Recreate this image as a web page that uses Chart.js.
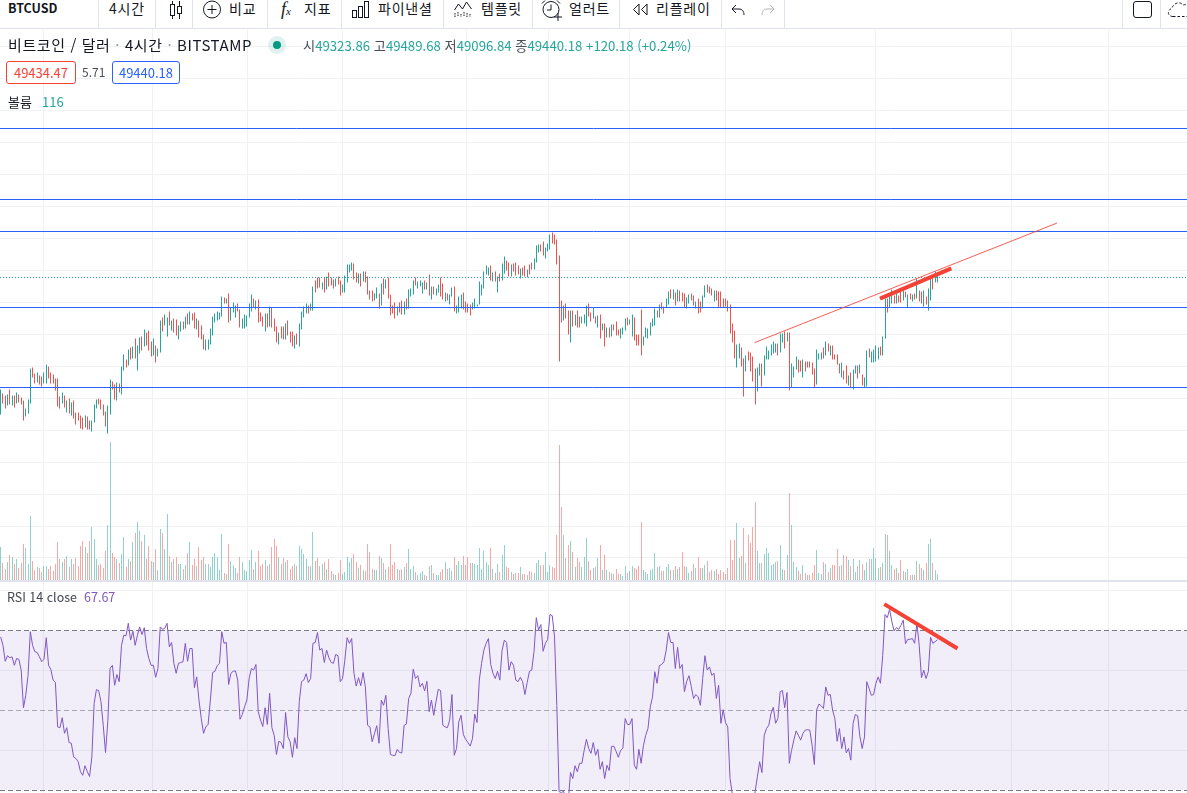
<!DOCTYPE html>
<html lang="ko">
<head>
<meta charset="utf-8">
<title>BTCUSD</title>
<script src="https://cdn.jsdelivr.net/npm/chart.js@4"></script>
<style>
  html, body { margin: 0; padding: 0; background: #fff; overflow: hidden; }
  body { width: 1187px; height: 793px; position: relative; font-family: "Noto Sans CJK KR", "Noto Sans", sans-serif; color: #131722; }
  #chart { position: absolute; left: 0; top: 29px; }
  #toolbar { position: absolute; left: 0; top: 0; width: 1187px; height: 28px; border-bottom: 1px solid #e0e3eb; background: #fff; }
  .t { position: absolute; white-space: nowrap; line-height: 1; }
  .m { font-size: 14px; letter-spacing: 0.8px; top: 1px; }
  .sep { position: absolute; top: 0; width: 1px; height: 28px; background: #e0e3eb; }
  svg { position: absolute; overflow: visible; }
  .box { position: absolute; top: 61px; height: 21px; border-radius: 3px; font-size: 13px; line-height: 21px; text-align: center; background: #fff; }
  .up { color: #26a69a; }
  .lbl { color: #4a4e59; }
</style>
</head>
<body>
<canvas id="chart" width="1187" height="764"></canvas>

<div id="toolbar">
  <div class="t" style="left:8px;top:2px;font-size:12.5px;font-weight:700">BTCUSD</div>
  <div class="sep" style="left:98px"></div>
  <div class="t m" style="left:109px">4시간</div>
  <div class="sep" style="left:155px"></div>
  <svg style="left:168px;top:0" width="16" height="20" fill="none" stroke="#131722"><path d="M4.5 1v18M11.5 1v18"/><rect x="2.5" y="4.5" width="4" height="11" fill="#fff"/><rect x="9.5" y="6.5" width="4" height="7" fill="#fff"/></svg>
  <div class="sep" style="left:192px"></div>
  <svg style="left:202px;top:0" width="20" height="20" fill="none" stroke="#131722"><circle cx="10" cy="9.5" r="8.5"/><path d="M10 5v9M5.5 9.5h9"/></svg>
  <div class="t m" style="left:229px">비교</div>
  <div class="sep" style="left:267px"></div>
  <div class="t" style="left:281px;top:0;font-size:18px;font-style:italic;font-family:'Liberation Serif'">f<span style="font-size:11px">x</span></div>
  <div class="t m" style="left:304px">지표</div>
  <div class="sep" style="left:341px"></div>
  <svg style="left:352px;top:1px" width="17" height="17" fill="none" stroke="#131722"><rect x="0.5" y="9.5" width="4" height="7"/><rect x="6.5" y="5.5" width="4" height="11"/><rect x="12.5" y="0.5" width="4" height="16"/></svg>
  <div class="t m" style="left:378px">파이낸셜</div>
  <div class="sep" style="left:443px"></div>
  <svg style="left:454px;top:1px" width="19" height="17" fill="none" stroke="#131722"><path d="M0.5 9l4-6 4 5 4-7 5 7"/><path d="M1 12v4M4 11v5M7 13v3M10 11v5M13 12v4M16 13v3" stroke-dasharray="1.5 1"/></svg>
  <div class="t m" style="left:481px">템플릿</div>
  <div class="sep" style="left:532px"></div>
  <svg style="left:541px;top:0" width="21" height="21" fill="none" stroke="#131722"><circle cx="10" cy="9.5" r="8"/><path d="M10 4.5v5.5H6M1 3.5l3-3M19 3.5l-3-3"/><path d="M17 13v8M13 17h8" stroke="#131722"/></svg>
  <div class="t m" style="left:569px">얼러트</div>
  <div class="sep" style="left:619px"></div>
  <svg style="left:632px;top:3px" width="16" height="13" fill="none" stroke="#131722"><path d="M7 1L1.5 6.5 7 12zM15 1L9.5 6.5 15 12z"/></svg>
  <div class="t m" style="left:656px">리플레이</div>
  <div class="sep" style="left:721px"></div>
  <svg style="left:731px;top:4px" width="16" height="12" fill="none" stroke="#131722"><path d="M5 1L1 5l4 4M1 5h7c3 0 5 2 5 6"/></svg>
  <svg style="left:759px;top:4px" width="16" height="12" fill="none" stroke="#b2b5be"><path d="M11 1l4 4-4 4M15 5H8c-3 0-5 2-5 6"/></svg>
  <div class="sep" style="left:784px"></div>
  <div class="sep" style="left:1122px"></div>
  <svg style="left:1133px;top:1px" width="19" height="17" fill="none" stroke="#131722"><rect x="0.5" y="0.5" width="18" height="16" rx="2.5"/></svg>
  <div class="sep" style="left:1160px"></div>
  <svg style="left:1168px;top:1px" width="24" height="16" fill="none" stroke="#131722" stroke-dasharray="2.5 2"><path d="M5 15.5c-6 0-6-7-1-8C5 2 12 0 15 4c3-1 8 0 9 4"/><path d="M5 15.5h19"/></svg>
</div>

<div class="t" style="left:8px;top:37px;font-size:15px;letter-spacing:0.6px">비트코인 / 달러 <span style="color:#9598a1">·</span> 4시간 <span style="color:#9598a1">·</span> BITSTAMP</div>
<svg style="left:268px;top:36px" width="18" height="18"><circle cx="9" cy="9" r="9" fill="#26a69a" fill-opacity="0.15"/><circle cx="9" cy="9" r="4" fill="#089981"/></svg>
<div class="t" style="left:303px;top:39px;font-size:13.2px"><span class="lbl">시</span><span class="up">49323.86</span>&nbsp;<span class="lbl">고</span><span class="up">49489.68</span>&nbsp;<span class="lbl">저</span><span class="up">49096.84</span>&nbsp;<span class="lbl">종</span><span class="up">49440.18</span>&nbsp;<span class="up">+120.18 (+0.24%)</span></div>

<div class="box" style="left:6px;width:68px;border:1px solid #f44336;color:#f44336">49434.47</div>
<div class="t" style="left:82px;top:66px;font-size:12px;color:#4a4e59">5.71</div>
<div class="box" style="left:112px;width:66px;border:1px solid #2962ff;color:#2962ff">49440.18</div>

<div class="t" style="left:8px;top:95px;font-size:13px">볼륨</div>
<div class="t up" style="left:42px;top:95px;font-size:13px">116</div>
<div class="t" style="left:7px;top:591px;font-size:12.5px;color:#434651">RSI 14 close &nbsp;<span style="color:#7e57c2">67.67</span></div>

<script>
// bar-by-bar values, rows of 10
const highs = [
  40480,40160,40000,40080,40480,40000,40000,40240,40080,39840,
  39600,38960,39680,42160,42240,41760,41840,41600,41520,41840,
  42480,42320,41840,41680,41360,41360,39920,40240,40000,39600,
  39760,39440,39600,38640,38640,38400,38240,38400,38320,38000,
  38000,39280,39680,39760,39680,39280,38720,39200,41280,41120,
  40880,41040,40960,42320,43280,42880,43680,43840,43920,44560,
  44000,44640,44720,45280,45040,45200,44320,44560,44000,43760,
  46000,46240,46480,46240,46720,46000,46160,46080,45600,45920,
  45920,46320,46560,46720,46560,46640,46160,46000,45600,44880,
  44480,44480,45360,46320,46560,46720,46640,47920,47840,47760,
  48160,47040,47440,47200,47360,46880,46160,46480,46400,47360,
  48080,47760,47600,47680,46640,46320,46560,46560,47120,47040,
  46160,45520,45040,45520,45520,45760,46000,45120,45120,44800,
  44960,45760,46720,47120,47360,47200,47360,48720,49200,49440,
  49440,49040,49440,49520,49840,49440,49280,49360,49520,49200,
  48880,49600,50480,50480,50640,50560,49840,49760,49760,49920,
  49920,49520,48400,48400,48160,48640,48160,48960,49360,49280,
  49440,48080,47200,47440,47120,47440,47600,47520,47760,48480,
  48560,49200,49440,49120,49200,49040,49200,49040,49680,48720,
  48720,48560,48880,49440,48960,48240,48160,48080,48640,48720,
  47200,47920,48080,48240,47520,47360,47280,47440,47760,47280,
  49120,48880,49920,50400,50240,50400,49840,49920,49520,49760,
  50560,51120,50800,50640,50480,50560,50640,50400,50160,50240,
  50400,50080,50480,50640,50960,52000,52080,52080,52320,51840,
  52160,52880,53040,52880,52480,51200,47600,47200,47360,46800,
  46800,46800,46480,46800,46320,46320,46480,47200,47360,46640,
  47040,46320,46400,46480,45760,45760,45440,45440,45680,45680,
  45920,45280,45360,45440,46160,46240,46080,46480,46240,44880,
  44880,46880,44720,45440,45360,45840,46160,46960,46800,47280,
  47440,47120,47760,48320,48480,48480,48240,48480,48400,48240,
  48160,47840,48080,48160,48000,47520,47760,47520,48000,48800,
  48880,48720,48560,48400,48400,48320,48320,47760,47760,47600,
  47280,45760,45200,44080,44160,43840,42960,43200,43520,43440,
  43120,42160,42240,42560,42560,43200,43920,43600,44080,44320,
  44160,44160,44960,44960,45120,45040,45040,42560,42320,43120,
  42880,42800,42880,42720,42720,42720,42640,42160,43680,43360,
  43440,43840,44320,44160,44000,44000,43280,43280,42560,42640,
  42000,42400,41600,41840,42080,42400,42400,42480,41680,41440,
  43600,43760,43520,43680,44000,43840,43920,44720,47760,47760,
  47920,48480,48000,48160,48000,48320,48400,48320,48080,48160,
  48080,48160,49360,48400,48320,48400,47920,48560,49520,49600,
  49920,49840
];
const lows = [
  38480,39360,38960,39200,39280,39200,39040,39360,39440,39280,
  38000,38320,38560,39360,41440,40960,41040,40880,40720,40960,
  40960,41360,40960,40960,40400,39120,38960,39360,39040,38640,
  38560,38400,38160,37680,38000,37360,37280,37440,37280,37280,
  37120,37840,38960,39280,38880,38400,37520,36960,38480,40480,
  39680,39600,40240,40080,42000,42240,42400,42880,42960,42960,
  42000,43360,43600,43920,44000,43600,43120,43200,42640,43120,
  43440,45120,45600,44720,45600,45200,45040,44800,44480,45120,
  45280,45360,45680,45680,46000,45360,45280,44640,44480,43680,
  43600,43680,44080,44800,45840,46000,46080,46320,47360,47360,
  45840,46000,46640,46240,46720,45440,45360,45360,45520,46240,
  46720,47040,46880,45840,45920,45520,45120,45440,45520,45440,
  45120,44240,44080,44560,44480,44480,44800,44240,43920,43760,
  44080,43920,45280,46240,46560,46560,46800,46800,48240,48560,
  48640,48480,48240,48480,48720,48800,48560,48720,48880,48000,
  48240,48240,49040,49840,50000,49280,49040,48960,48720,49120,
  49040,48080,47680,47520,47600,47760,46960,47200,48080,48560,
  47760,46400,46560,46160,46400,46640,46480,46480,46880,46960,
  47920,48080,48800,48560,48720,48160,48480,48480,48000,47680,
  48080,48000,48240,47920,47680,47520,47600,47280,47920,46720,
  46560,46640,46960,46880,46640,46640,46400,46880,46960,47120,
  47280,48000,48560,49680,49600,49200,49120,49120,48240,49120,
  49200,49760,50000,49520,49520,49920,49600,49680,49360,49600,
  49520,49440,49680,50080,50080,50640,51440,51520,51200,50960,
  51520,51680,52160,52080,50480,42720,45840,46000,46160,44880,
  44240,45520,45600,45440,45440,45760,45760,45520,46320,45920,
  46160,45760,45440,44560,45200,43920,44640,44640,44720,45200,
  44800,44800,44560,44880,45200,45600,45680,44720,44400,44000,
  44000,43200,44000,44640,44560,44800,45520,45600,46240,46240,
  46880,46560,47040,47280,47760,47680,47200,47520,47520,47520,
  47040,46960,47360,47600,47200,46960,46560,46640,46960,47840,
  48240,48160,48000,47520,47600,47040,47040,47040,47120,46720,
  44960,44240,42960,42240,42960,42320,39920,41920,42800,41920,
  41120,39280,40320,41600,40720,41600,42880,42880,43200,43360,
  43440,43200,43440,44240,43760,44320,40400,40640,41440,42080,
  41840,41920,41440,41920,42240,42240,41680,40640,40880,42880,
  42880,42960,43200,43520,43200,42880,42880,42480,41760,41440,
  41280,40960,40800,40640,40480,41760,41360,41760,40800,40640,
  40720,43040,42640,42640,42720,42880,43200,43200,44560,46640,
  47040,47360,47360,47360,47440,47440,47600,47840,47040,47680,
  47520,47680,47760,47520,47360,47120,47280,46800,47600,48480,
  49040,49040
];
// 1 = close above open, 0 = close below open
const ups = [
  1,0,0,1,0,1,0,1,0,0, 0,1,1,1,0,0,1,0,0,1, 1,0,0,0,0,0,0,1,0,1, 0,1,0,0,0,0,0,1,0,0,
  1,1,1,0,0,0,0,1,1,0, 0,1,0,1,1,0,1,0,1,0, 1,1,0,1,0,0,0,1,0,1, 1,0,1,1,0,1,0,0,1,1,
  0,1,0,1,0,0,1,0,0,0, 1,1,1,1,1,1,1,1,0,1, 0,1,1,1,0,0,1,1,1,1, 1,0,1,0,0,0,1,0,1,0,
  0,0,1,0,0,1,0,0,0,1, 0,1,1,1,1,0,1,1,0,0, 0,1,0,1,0,0,0,1,0,0, 1,1,1,1,1,0,0,1,0,1,
  0,0,0,0,1,1,0,1,0,1, 0,0,0,0,1,0,0,1,0,1, 1,1,0,1,1,1,0,1,0,1, 0,1,1,0,0,1,0,1,1,0,
  1,1,1,0,0,0,0,1,1,1, 1,1,1,1,1,0,1,0,1,0, 1,1,0,0,1,0,0,0,1,0, 0,1,0,0,1,1,1,0,0,1,
  1,1,0,0,0,0,0,1,0,0, 1,0,1,0,0,1,1,1,0,0, 1,0,1,0,1,0,1,0,1,0, 0,0,1,1,1,0,1,1,0,0,
  0,0,1,1,1,1,1,1,0,1, 0,0,1,1,0,1,0,1,0,0, 0,1,1,0,0,1,0,0,1,1, 0,0,0,1,0,0,0,0,0,0,
  0,0,0,1,1,0,0,1,0,0, 0,0,1,1,0,1,1,1,1,1, 1,0,1,1,0,1,0,1,1,1, 0,0,1,0,0,0,0,0,1,1,
  1,0,1,0,1,0,0,0,0,1, 0,0,1,0,1,1,0,1,0,1, 1,0,1,1,1,1,0,1,1,0, 1,1,0,1,0,0,1,0,1,0,
  1,0,1,0,0,1,0,1,1,0, 1,1
];
const volumes = [
  660,340,220,360,500,460,320,420,240,340,
  720,640,320,1280,380,200,260,240,160,280,
  280,220,280,180,320,760,420,360,420,480,
  260,420,320,440,280,680,780,660,540,780,
  1060,820,420,300,320,240,580,1100,2760,540,
  460,420,340,520,860,260,420,380,760,940,
  1160,980,780,900,420,680,380,360,620,200,
  1020,940,620,1320,480,360,420,460,320,320,
  220,300,540,760,300,420,280,660,400,460,
  320,320,260,460,540,460,200,920,140,120,
  720,380,300,240,140,460,360,200,180,400,
  600,220,360,580,280,320,400,280,320,660,
  820,680,460,320,440,360,400,220,280,320,
  280,680,620,520,420,280,280,960,380,440,
  280,320,360,220,420,180,120,100,140,400,
  120,160,460,360,440,520,360,240,300,200,
  180,720,560,220,200,200,480,440,340,220,
  260,720,300,360,220,200,220,260,340,620,
  220,280,160,100,140,180,100,80,280,300,
  140,100,100,160,220,360,220,240,180,460,
  300,380,300,480,300,460,340,340,320,300,
  640,220,580,360,300,640,220,140,320,160,
  500,700,260,240,160,120,140,140,260,120,
  120,100,180,160,140,340,400,300,300,560,
  160,300,260,240,900,2700,1460,900,440,700,
  780,560,260,440,360,260,460,840,380,200,
  240,260,440,700,200,500,200,160,140,120,
  220,120,120,80,280,140,180,280,240,220,
  280,1160,200,160,120,200,220,540,260,280,
  180,180,260,320,200,200,280,220,260,560,
  280,260,140,180,320,240,460,240,240,300,
  380,160,200,180,220,120,200,160,120,240,
  800,400,800,1140,440,480,1040,340,900,740,
  1060,1560,580,340,340,520,640,540,300,320,
  360,380,700,220,200,500,1740,1100,360,260,
  180,120,300,140,100,100,140,300,600,140,
  120,360,320,160,240,300,300,620,280,300,
  500,480,400,280,420,160,280,400,320,200,
  360,420,420,640,440,240,260,340,920,900,
  580,300,220,240,140,400,180,160,220,100,
  100,100,380,320,240,200,340,720,820,340,
  200,116
];
const rsiValues = [
  68.4,66.3,62.3,63.7,63.2,63.4,61.3,63,62.8,60,
  50.7,53.8,58.8,69.7,66.3,64.7,64.5,63.4,62.2,62.8,
  68.2,61.3,60.3,57.6,57,45.9,45.7,48.2,44.3,45.7,
  42,41.8,38.4,38,37.2,34.7,33.8,36.2,34.7,33.5,
  38.4,51.8,55.2,55,52.2,46.3,39.5,47.2,60.5,61.3,
  56.3,59,57.2,66.2,68.8,68.7,71.8,67.6,69.8,66.3,
  68.8,70.9,69,70.7,65.5,63,61.3,61.3,58.3,60.5,
  70.9,70.3,70.5,71.8,65.9,67,61.8,59.3,61.8,62,
  62.2,66.8,62.3,65.5,65.5,55.7,58.4,52.6,48,44.3,
  45.9,46.5,52.6,59.5,59.8,61.2,61.8,69.7,66.8,67,
  56.5,59.3,59.8,59.9,57.6,47.8,49,50.9,52.6,58,
  60.5,60.1,61.5,49.7,47.6,46,50.7,46.5,54.3,45.7,
  43.8,39,42.3,42,40.5,49.5,43.4,42.2,38.3,43.2,
  40.5,52.2,57.2,57.6,59.2,57,58,66.8,67,69.5,
  65.1,65.5,62,65.1,63.2,62,61.8,64,63.7,57.2,
  58,62.6,68.2,66.8,68,59.3,56.1,58.2,56.2,59.5,
  55.9,46.3,45.9,42.2,44.2,46.2,41.8,52.6,51.3,53.8,
  45.5,39,38.8,38.7,40.3,39.5,39.4,46.3,46.6,53,
  54.3,60.3,58,58.7,55.9,56.8,54.9,57.3,49.7,52.6,
  48.8,52.2,55.3,55,46.3,45.9,45.7,47.6,54,38.8,
  40.5,47.2,48.8,44,42.8,42,41.1,43,49.1,47,
  57.6,61.8,65.1,66.8,68,61.5,59.3,58,59.8,57.6,
  65.1,67.6,67,60.1,62.2,61.3,57.6,57.2,58.3,57.2,
  54,57,59.8,60.1,64.7,73.2,70.1,71.5,64.8,66.8,
  67.8,74,73.7,68.4,51.3,29.7,29.5,29.8,28,27,
  34.5,33,36.2,34.7,36.8,36.8,40,42.8,40.5,39.3,
  42,38.8,40.3,35.3,37.2,33,36.3,35,41,41.1,
  39.8,38.3,40,40.6,48,46.5,46.5,48,36.3,35.3,
  40.3,36.8,41.2,43.8,45.5,50.9,53.4,59.7,56.8,61.2,
  61.5,62.2,65.1,69.5,67,67,60.5,65.8,60.5,61.5,
  54.7,57.3,58.7,56,53,54,53.4,51.3,58,63.7,
  60.1,60.9,58.8,59.3,53,56.3,46.8,50.2,47,45.9,
  33,29.2,26.3,25,23.5,23,22.5,22,22.3,23,
  25.5,29.7,33.4,37.2,34.5,43.8,45.5,46.3,49.3,50.8,
  46.8,48,54.7,55,50.7,54.5,36.8,40,42.6,44.9,
  43.8,42.6,44.3,45.1,45.2,45.1,41.3,36.5,50.1,51.6,
  51.2,50.5,55.9,53.8,54,50.1,48,42.3,45.5,40.5,
  43.4,39.4,40.5,37.6,46.8,49,48.7,43.4,40.5,43.4,
  57.2,55.5,53.8,54,56.8,58.4,56.8,63.8,74,73.2,
  75.3,72.2,69.9,70.7,70.3,71.3,72.6,66.7,67.8,67.8,
  68,66.8,71.8,66.3,58.2,60.1,58,59.7,68.3,66.8,
  67.2,67.67
];

const levelPrices = [61360, 55680, 53120, 47040, 40640];
const lastClose = 49440;
const rsiLevels = [70, 50, 30];

// drawn lines: [bar, value] at each end
const resistanceLine = [[330.7, 44224], [463.5, 53800]];
const priceWedgeLine = [[385.8, 47744], [417.1, 50176]];
const rsiWedgeLine = [[387.7, 76.6], [419.8, 65.5]];

// grid, the axes themselves are cropped out of the picture
const timeGrid = [18.6, 66.4, 108.1, 149.8, 204.2, 240.2, 275.7, 318.2, 384, 443.7, 485.9];
const priceGrid = [67885, 65330, 62775, 60220, 57665, 55110, 52555, 50000, 47445, 44890, 42335, 39780, 37225, 34670, 32115, 29560, 27005];
const rsiGrid = [80, 60, 40];

const xMin = -0.3, xMax = 520.5;
const TEAL = '#26a69a', RED = '#ef5350', GRID = '#f0f1f3';

function flatLine(value, axis, extra) {
  return Object.assign({
    type: 'line',
    yAxisID: axis,
    data: [{ x: xMin, y: value }, { x: xMax, y: value }],
    pointRadius: 0,
    borderWidth: 1,
    fill: false
  }, extra);
}

function segment(points, axis, color, width, order) {
  return {
    type: 'line',
    yAxisID: axis,
    data: points.map(p => ({ x: p[0], y: p[1] })),
    borderColor: color,
    borderWidth: width,
    pointRadius: 0,
    order: order
  };
}

// bars are 1px wide, keep them on whole pixels like the original
const snapBars = {
  id: 'snapBars',
  afterDatasetsUpdate(chart) {
    chart.data.datasets.forEach((ds, i) => {
      if (ds.type !== 'bar') return;
      chart.getDatasetMeta(i).data.forEach(el => { el.x = Math.floor(el.x) + 0.5; });
    });
  }
};

function fixedTicks(values) {
  return scale => { scale.ticks = values.map(v => ({ value: v })); };
}

function hiddenAxis(min, max, extra) {
  return Object.assign({
    type: 'linear',
    position: 'left',
    min: min,
    max: max,
    border: { display: false },
    ticks: { display: false },
    grid: { display: false, drawTicks: false }
  }, extra);
}

new Chart(document.getElementById('chart'), {
  type: 'bar',
  plugins: [snapBars],
  data: {
    datasets: [
      flatLine(rsiLevels[0], 'yRsi', { borderColor: '#787b86', borderDash: [5, 3], backgroundColor: 'rgba(126,87,194,0.1)', fill: '+1', order: 9 }),
      flatLine(rsiLevels[2], 'yRsi', { borderColor: '#787b86', borderDash: [5, 3], order: 9 }),
      flatLine(rsiLevels[1], 'yRsi', { borderColor: 'rgba(120,123,134,0.6)', borderDash: [5, 3], order: 8 }),
      {
        type: 'bar',
        yAxisID: 'yVol',
        data: volumes.map((v, i) => ({ x: i, y: v })),
        backgroundColor: ups.map(u => (u ? 'rgba(38,166,154,0.5)' : 'rgba(239,83,80,0.5)')),
        barThickness: 1,
        inflateAmount: 0,
        grouped: false,
        order: 7
      },
      {
        type: 'bar',
        yAxisID: 'y',
        data: highs.map((h, i) => ({ x: i, y: [lows[i], h] })),
        backgroundColor: ups.map(u => (u ? TEAL : RED)),
        barThickness: 1,
        inflateAmount: 0,
        grouped: false,
        order: 6
      },
      flatLine(lastClose, 'y', { borderColor: TEAL, borderDash: [1, 2], order: 5 }),
      ...levelPrices.map(p => flatLine(p, 'y', { borderColor: '#2962ff', order: 4 })),
      // pane separator under the volume
      flatLine(25160, 'y', { borderColor: '#e0e3eb', borderWidth: 2, order: 4 }),
      {
        type: 'line',
        yAxisID: 'yRsi',
        data: rsiValues.map((v, i) => ({ x: i, y: v })),
        borderColor: '#7e57c2',
        borderWidth: 1,
        pointRadius: 0,
        order: 3
      },
      segment(resistanceLine, 'y', 'rgba(244,67,54,0.85)', 1, 2),
      segment(priceWedgeLine, 'y', '#f44336', 4, 1),
      segment(rsiWedgeLine, 'yRsi', '#f44336', 4, 1)
    ]
  },
  options: {
    responsive: false,
    devicePixelRatio: 1,
    animation: false,
    parsing: { xAxisKey: 'x', yAxisKey: 'y' },
    layout: { padding: 0 },
    plugins: { legend: { display: false }, tooltip: { enabled: false } },
    scales: {
      x: {
        type: 'linear',
        position: 'bottom',
        offset: false,
        min: xMin,
        max: xMax,
        afterBuildTicks: fixedTicks(timeGrid),
        border: { display: false },
        ticks: { display: false },
        grid: { color: GRID, drawTicks: false, offset: false }
      },
      y: hiddenAxis(8200, 69320, {
        afterBuildTicks: fixedTicks(priceGrid),
        grid: { color: GRID, drawTicks: false }
      }),
      yVol: hiddenAxis(-4260, 11020),
      yRsi: hiddenAxis(29.375, 220.375, {
        afterBuildTicks: fixedTicks(rsiGrid),
        grid: { color: GRID, drawTicks: false }
      })
    }
  }
});
</script>
</body>
</html>
